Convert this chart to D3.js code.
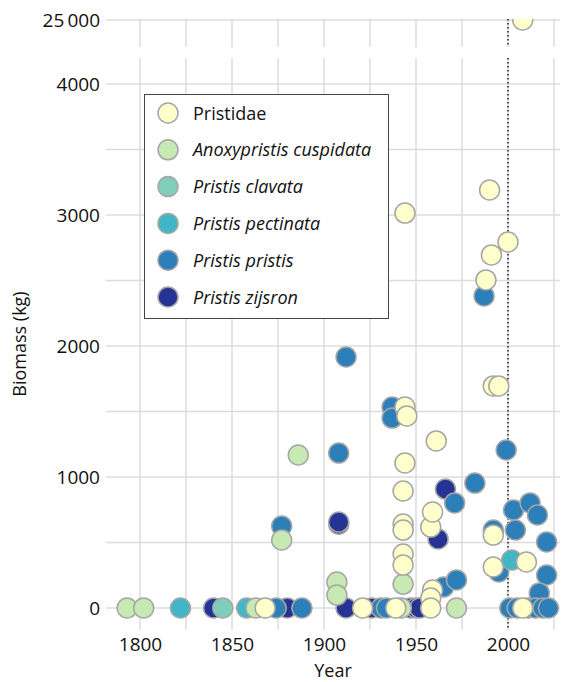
<html lang="en">
<head>
<meta charset="UTF-8">
<title>Sawfish biomass</title>
<script src="https://d3js.org/d3.v7.min.js"></script>
<style>
  body { margin: 0; background: #fff; }
  text { font-family: "Open Sans", sans-serif; fill: #111; }
</style>
</head>
<body>
<div id="chart"></div>
<script>
// species in legend order
const species = ["Pristidae", "Anoxypristis cuspidata", "Pristis clavata",
                 "Pristis pectinata", "Pristis pristis", "Pristis zijsron"];

// year / biomass (kg)
const pristidaeYear = [1868, 1921, 1939, 1944, 1944, 1945, 1944, 1943, 1943, 1943, 1943, 1943,
                       1958, 1959, 1961, 1959, 1958, 1958, 1988, 1990, 1991, 2000, 1992, 1995,
                       1992, 1992, 2010, 2008, 2008];
const pristidaeKg   = [0, 0, 0, 3015, 1534, 1466, 1107, 893, 641, 595, 412, 328,
                       618, 733, 1275, 137, 76, 0, 2504, 3191, 2695, 2794, 1695, 1695,
                       557, 313, 351, 0, 25000];
const cuspidataYear = [1793, 1802, 1863, 1877, 1886, 1907, 1907, 1942, 1943, 1972];
const cuspidataKg   = [0, 0, 0, 519, 1168, 198, 99, 0, 183, 0];
const clavataYear   = [1845];
const clavataKg     = [0];
const pectinataYear = [1822, 1858, 2002];
const pectinataKg   = [0, 0, 366];
const pristisYear   = [1874, 1888, 1877, 1908, 1912, 1937, 1937, 1931, 1934, 1965, 1972, 1971,
                       1982, 1987, 1992, 1995, 1999, 2003, 2004, 2012, 2016, 2021, 2021, 2017,
                       2001, 2005, 2011, 2015, 2019, 2022];
const pristisKg     = [0, 0, 626, 1183, 1916, 1534, 1450, 0, 0, 160, 214, 802,
                       954, 2382, 595, 275, 1206, 748, 595, 802, 710, 504, 252, 115,
                       0, 0, 0, 0, 0, 0];
const zijsronYear   = [1840, 1880, 1908, 1908, 1912, 1926, 1947, 1950, 1952, 1966, 1962];
const zijsronKg     = [0, 0, 640, 656, 0, 0, 0, 0, 0, 908, 527];

const xTicks = [1800, 1850, 1900, 1950, 2000];
const yTicks = [0, 1000, 2000, 3000, 4000];
const yTopTicks = [25000];
const refYear = 2000;

const palette = ["#ffffcc", "#c7e9b4", "#7fcdbb", "#41b6c4", "#2c7fb8", "#253494"];

const allYears = [pristidaeYear, cuspidataYear, clavataYear, pectinataYear, pristisYear, zijsronYear];
const allKg = [pristidaeKg, cuspidataKg, clavataKg, pectinataKg, pristisKg, zijsronKg];

// flatten; draw from last species to first so Pristidae sits on top
let points = [];
for (let s = species.length - 1; s >= 0; s--) {
    allYears[s].forEach((yr, i) => points.push({ sp: s, year: yr, kg: allKg[s][i] }));
}

const width = 563, height = 682;
const left = 106, right = 560;
const lowTop = 58, lowBottom = 630;
const upTop = 19, upBottom = 47;

const svg = d3.select("#chart").append("svg")
    .attr("width", width)
    .attr("height", height);

const x = d3.scaleLinear().domain([1800, 2025]).range([140, 554]);
const y = d3.scaleLinear().domain([0, 4000]).range([608, 84]);
const yTop = d3.scaleLinear().domain([24800, 25000]).range([46, 20]);

const defs = svg.append("defs");
defs.append("clipPath").attr("id", "clipLow").append("rect")
    .attr("x", left).attr("y", lowTop).attr("width", right - left).attr("height", lowBottom - lowTop);
defs.append("clipPath").attr("id", "clipUp").append("rect")
    .attr("x", left).attr("y", upTop).attr("width", right - left).attr("height", upBottom - upTop);

// grid
const gridColor = "#dcdcdc";
const vGrid = d3.range(1800, 2026, 25);
const grid = svg.append("g").attr("stroke", gridColor).attr("stroke-width", 1.5);
grid.selectAll(".vlow").data(vGrid).join("line")
    .attr("x1", d => x(d)).attr("x2", d => x(d))
    .attr("y1", lowTop).attr("y2", lowBottom);
grid.selectAll(".vup").data(vGrid).join("line")
    .attr("x1", d => x(d)).attr("x2", d => x(d))
    .attr("y1", upTop).attr("y2", upBottom);
grid.selectAll(".hlow").data(d3.range(0, 4001, 500)).join("line")
    .attr("x1", left).attr("x2", right)
    .attr("y1", d => y(d)).attr("y2", d => y(d));
grid.selectAll(".hup").data(yTopTicks).join("line")
    .attr("x1", left).attr("x2", right)
    .attr("y1", d => yTop(d)).attr("y2", d => yTop(d));

// reference year dotted line
[[upTop, upBottom], [lowTop, lowBottom]].forEach(r => {
    svg.append("line")
        .attr("x1", x(refYear)).attr("x2", x(refYear))
        .attr("y1", r[0]).attr("y2", r[1])
        .attr("stroke", "#222").attr("stroke-width", 1.5)
        .attr("stroke-dasharray", "1.5,2.5");
});

// axes
const xAxis = svg.append("g")
    .attr("transform", `translate(0,${lowBottom})`)
    .call(d3.axisBottom(x).tickValues(xTicks).tickFormat(d3.format("d")).tickSize(0).tickPadding(8));
const yAxis = svg.append("g")
    .attr("transform", `translate(${left - 6},0)`)
    .call(d3.axisLeft(y).tickValues(yTicks).tickFormat(d3.format("d")).tickSize(0).tickPadding(0));
const yAxisTop = svg.append("g")
    .attr("transform", `translate(${left - 6},0)`)
    .call(d3.axisLeft(yTop).tickValues(yTopTicks).tickFormat(d => "25\u2009000").tickSize(0).tickPadding(0));
[xAxis, yAxis, yAxisTop].forEach(a => {
    a.select(".domain").remove();
    a.selectAll("text").attr("font-family", "Open Sans").attr("font-size", 19).attr("fill", "#111");
});

svg.append("text")
    .attr("x", (left + right) / 2).attr("y", 677)
    .attr("text-anchor", "middle").attr("font-size", 18)
    .text("Year");
svg.append("text")
    .attr("transform", `translate(26,${(lowTop + lowBottom) / 2}) rotate(-90)`)
    .attr("text-anchor", "middle").attr("font-size", 18)
    .text("Biomass (kg)");

// points
const r = 10;
const low = points.filter(d => d.kg <= 4200);
const high = points.filter(d => d.kg > 4200);
svg.append("g").attr("clip-path", "url(#clipLow)")
    .selectAll("circle").data(low).join("circle")
    .attr("cx", d => x(d.year)).attr("cy", d => y(d.kg)).attr("r", r)
    .attr("fill", d => palette[d.sp])
    .attr("stroke", "#a6a6a6").attr("stroke-width", 1.5);
svg.append("g").attr("clip-path", "url(#clipUp)")
    .selectAll("circle").data(high).join("circle")
    .attr("cx", d => x(d.year)).attr("cy", d => yTop(d.kg)).attr("r", r)
    .attr("fill", d => palette[d.sp])
    .attr("stroke", "#a6a6a6").attr("stroke-width", 1.5);

// legend
const legend = svg.append("g");
legend.append("rect")
    .attr("x", 144.5).attr("y", 94.5).attr("width", 244).attr("height", 224)
    .attr("fill", "#fff").attr("stroke", "#444").attr("stroke-width", 1);
const item = legend.selectAll(".item").data(species).join("g")
    .attr("transform", (d, i) => `translate(168,${113 + i * 36.8})`);
item.append("circle")
    .attr("r", r)
    .attr("fill", (d, i) => palette[i])
    .attr("stroke", "#a6a6a6").attr("stroke-width", 1.5);
item.append("text")
    .attr("x", 25).attr("y", 6.5)
    .attr("font-size", 18)
    .attr("font-style", (d, i) => i === 0 ? "normal" : "italic")
    .text(d => d);
</script>
</body>
</html>
